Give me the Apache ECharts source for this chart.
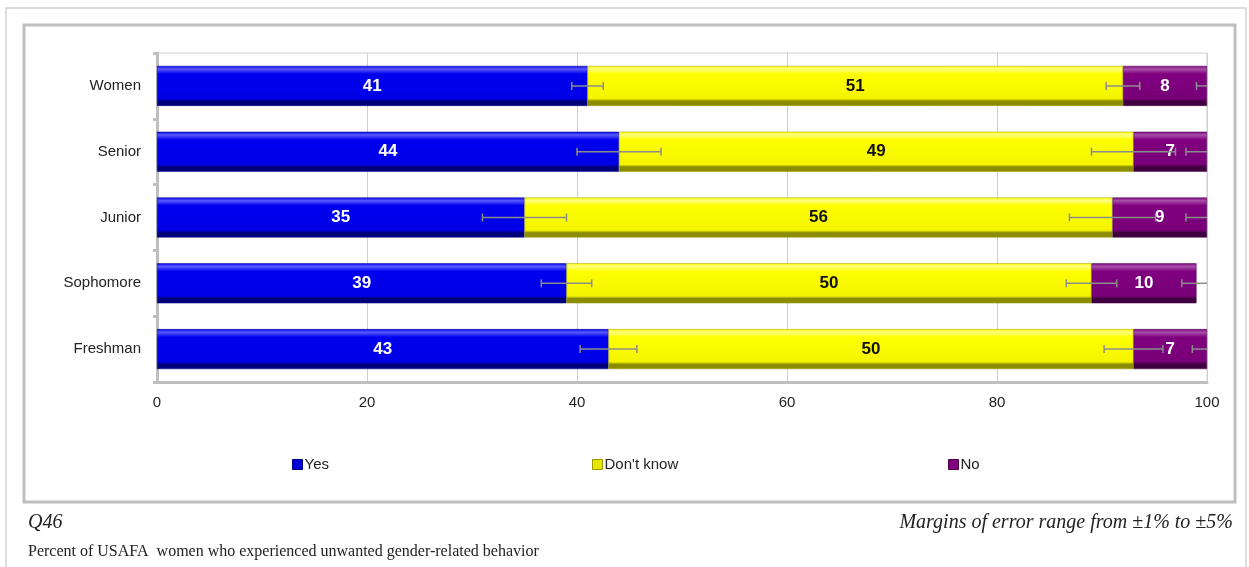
<!DOCTYPE html>
<html>
<head>
<meta charset="utf-8">
<script src="https://cdn.jsdelivr.net/npm/echarts@6/dist/echarts.min.js"></script>
<style>
html,body{margin:0;padding:0;background:#fff;}
#chart{width:1249px;height:567px;}
</style>
</head>
<body>
<div id="chart"></div>
<script>
const categories = ['Women', 'Senior', 'Junior', 'Sophomore', 'Freshman'];
const yesValues = [41, 44, 35, 39, 43];
const dontKnowValues = [51, 49, 56, 50, 50];
const noValues = [8, 7, 9, 10, 7];
const yesErr = [1.5, 4, 4, 2.4, 2.7];
const dontKnowErr = [1.6, 4, 4.1, 2.4, 2.8];
const noErr = [1, 2, 2, 1.4, 1.4];
const xTicks = [0, 20, 40, 60, 80, 100];

const chart = echarts.init(document.getElementById('chart'), null, {renderer: 'canvas'});

function grad(top, main, mid2, bottom) {
  return new echarts.graphic.LinearGradient(0, 0, 0, 1, [
    {offset: 0, color: main},
    {offset: 0.08, color: top},
    {offset: 0.2, color: main},
    {offset: 0.82, color: mid2},
    {offset: 0.88, color: bottom},
    {offset: 1, color: bottom}
  ]);
}

function errData(ends, errs) {
  return ends.map((e, i) => [i, e - errs[i], e + errs[i]]);
}
const yesEnds = yesValues.slice();
const dkEnds = yesValues.map((v, i) => v + dontKnowValues[i]);
const noEnds = dkEnds.map((v, i) => v + noValues[i]);

function renderErr(params, api) {
  const c = api.value(0);
  const p1 = api.coord([api.value(1), c]);
  const p2 = api.coord([api.value(2), c]);
  const cap = 4;
  const st = {stroke: '#8c8c8c', lineWidth: 1.5};
  return {
    type: 'group',
    children: [
      {type: 'line', shape: {x1: p1[0], y1: p1[1], x2: p2[0], y2: p2[1]}, style: st},
      {type: 'line', shape: {x1: p1[0], y1: p1[1] - cap, x2: p1[0], y2: p1[1] + cap}, style: st},
      {type: 'line', shape: {x1: p2[0], y1: p2[1] - cap, x2: p2[0], y2: p2[1] + cap}, style: st}
    ]
  };
}

const labelBase = {show: true, position: 'inside', fontFamily: 'Liberation Sans', fontWeight: 'bold', fontSize: 17};
const legendText = {fontFamily: 'Liberation Sans', fontSize: 15, color: '#222', padding: [0, 0, 0, -3]};

const option = {
  animation: false,
  backgroundColor: '#fff',
  graphic: [
    {type: 'rect', shape: {x: 6, y: 8, width: 1240, height: 600}, style: {fill: 'none', stroke: '#d4d4d4', lineWidth: 1.5}, z: -10},
    {type: 'rect', shape: {x: 24, y: 25, width: 1211, height: 477}, style: {fill: '#fff', stroke: '#bfbfbf', lineWidth: 3}, z: -9},
    {type: 'text', left: 28, top: 513, style: {text: 'Q46', font: 'italic 20px "Liberation Serif"', fill: '#222'}},
    {type: 'text', right: 16, top: 513, style: {text: 'Margins of error range from ±1% to ±5%', font: 'italic 20px "Liberation Serif"', fill: '#222', textAlign: 'right'}},
    {type: 'text', left: 28, top: 544, style: {text: 'Percent of USAFA  women who experienced unwanted gender-related behavior', font: '16px "Liberation Serif"', fill: '#222'}}
  ],
  grid: {left: 157, right: 42, top: 53, bottom: 185, show: true, borderColor: '#d0d0d0', borderWidth: 1, containLabel: false},
  legend: [
    {data: [{name: 'Yes', itemStyle: {color: '#0000d8', borderColor: '#000080', borderWidth: 1}}], left: 287, top: 452, icon: 'rect', itemWidth: 10, itemHeight: 10, textStyle: legendText},
    {data: [{name: "Don't know", itemStyle: {color: '#e6e600', borderColor: '#9a9a00', borderWidth: 1}}], left: 587, top: 452, icon: 'rect', itemWidth: 10, itemHeight: 10, textStyle: legendText},
    {data: [{name: 'No', itemStyle: {color: '#800080', borderColor: '#4a004a', borderWidth: 1}}], left: 943, top: 452, icon: 'rect', itemWidth: 10, itemHeight: 10, textStyle: legendText}
  ],
  xAxis: {
    type: 'value', min: 0, max: 100, interval: 20,
    axisLine: {show: true, lineStyle: {color: '#bfbfbf', width: 3}},
    axisTick: {show: false},
    splitLine: {show: true, lineStyle: {color: '#cfcfcf', width: 1}},
    axisLabel: {fontFamily: 'Liberation Sans', fontSize: 15, color: '#222', margin: 13,
      formatter: v => xTicks.includes(v) ? String(v) : ''}
  },
  yAxis: {
    type: 'category', data: categories, inverse: true,
    axisLine: {show: true, lineStyle: {color: '#bfbfbf', width: 3}},
    axisTick: {show: true, length: 4, lineStyle: {color: '#bfbfbf', width: 3}},
    axisLabel: {fontFamily: 'Liberation Sans', fontSize: 15, color: '#222', margin: 16, padding: [4, 0, 0, 0]}
  },
  series: [
    {name: 'Yes', type: 'bar', stack: 'a', data: yesValues, barWidth: 40,
      itemStyle: {color: grad('#5a5aff', '#0000f0', '#0000e6', '#00007a'), borderColor: '#00008a', borderWidth: 0.5},
      label: Object.assign({}, labelBase, {color: '#fff'})},
    {name: "Don't know", type: 'bar', stack: 'a', data: dontKnowValues, barWidth: 40,
      itemStyle: {color: grad('#ffff80', '#ffff00', '#f4f400', '#8c8c00'), borderColor: '#9a9a00', borderWidth: 0.5},
      label: Object.assign({}, labelBase, {color: '#111'})},
    {name: 'No', type: 'bar', stack: 'a', data: noValues, barWidth: 40,
      itemStyle: {color: grad('#a850a8', '#800080', '#780078', '#3e003e'), borderColor: '#4a004a', borderWidth: 0.5},
      label: Object.assign({}, labelBase, {color: '#fff'})},
    {type: 'custom', renderItem: renderErr, data: errData(yesEnds, yesErr), encode: {x: [1, 2], y: 0}, clip: true, z: 5, silent: true},
    {type: 'custom', renderItem: renderErr, data: errData(dkEnds, dontKnowErr), encode: {x: [1, 2], y: 0}, clip: true, z: 5, silent: true},
    {type: 'custom', renderItem: renderErr, data: errData(noEnds, noErr), encode: {x: [1, 2], y: 0}, clip: true, z: 5, silent: true}
  ]
};
chart.setOption(option);
</script>
</body>
</html>
